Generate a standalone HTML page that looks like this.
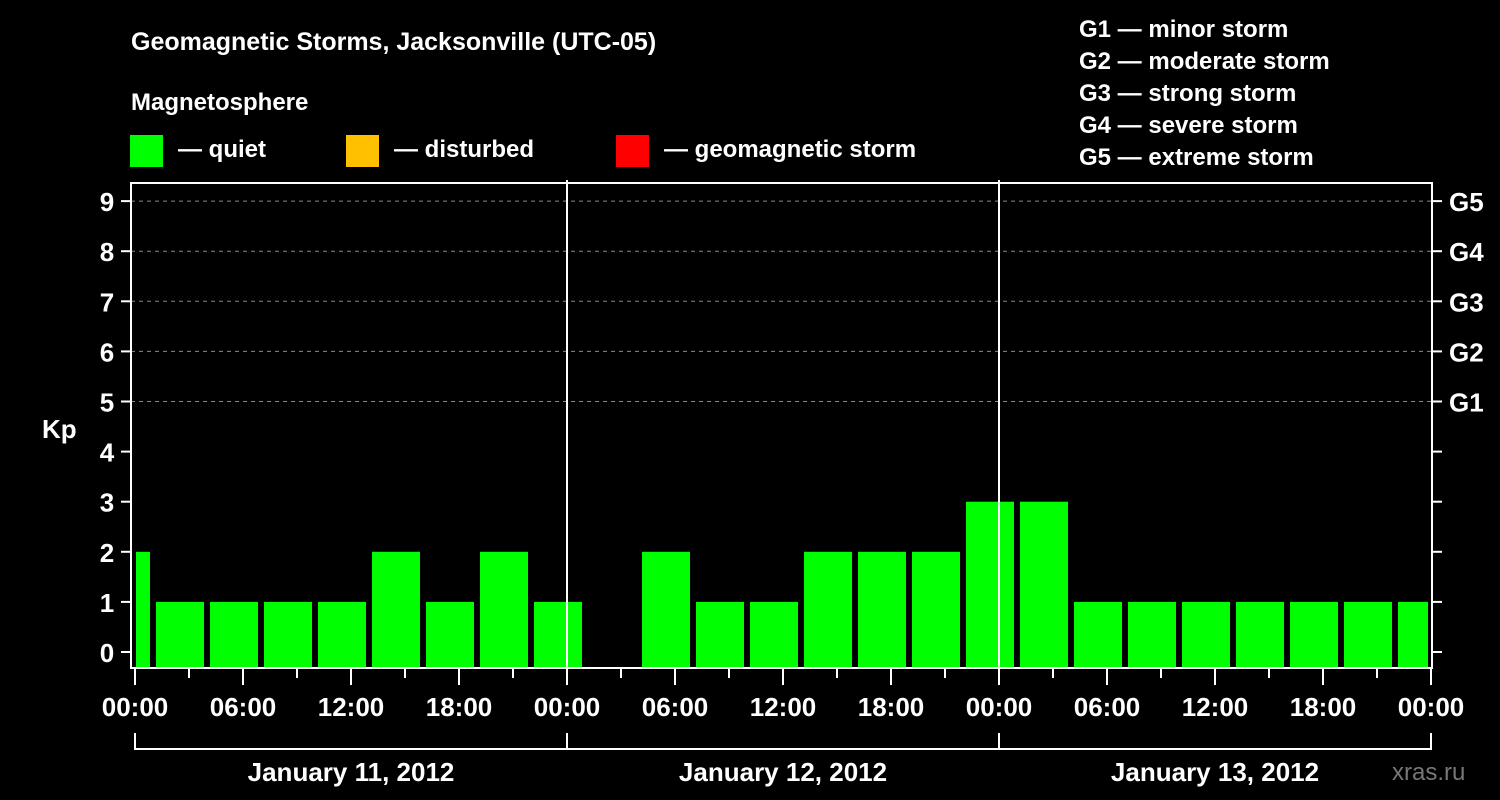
<!DOCTYPE html>
<html><head><meta charset="utf-8"><style>
body{margin:0;background:#000;}
svg{display:block;font-family:"Liberation Sans",Arial,sans-serif;font-weight:bold;}
</style></head><body>
<svg id="chart" width="1500" height="800" viewBox="0 0 1500 800" xmlns="http://www.w3.org/2000/svg">
<rect width="1500" height="800" fill="#000"/>
<text x="131" y="50" fill="#fff" font-size="25">Geomagnetic Storms, Jacksonville (UTC-05)</text>
<text x="131" y="110" fill="#fff" font-size="24">Magnetosphere</text>
<g><rect x="130" y="135" width="33" height="32" fill="#00ff00"/><text x="178" y="157" fill="#fff" font-size="24">— quiet</text></g>
<g><rect x="346" y="135" width="33" height="32" fill="#ffc000"/><text x="394" y="157" fill="#fff" font-size="24">— disturbed</text></g>
<g><rect x="616" y="135" width="33" height="32" fill="#ff0000"/><text x="664" y="157" fill="#fff" font-size="24">— geomagnetic storm</text></g>
<g fill="#fff" font-size="24">
<text x="1079" y="37">G1 — minor storm</text>
<text x="1079" y="69">G2 — moderate storm</text>
<text x="1079" y="101">G3 — strong storm</text>
<text x="1079" y="133">G4 — severe storm</text>
<text x="1079" y="165">G5 — extreme storm</text>
</g>
<text x="42" y="438" fill="#fff" font-size="26">Kp</text>
<text x="1392" y="780" fill="#777" font-size="24" font-weight="normal">xras.ru</text>
<g id="grid"></g><g id="bars"></g><g id="axes"></g>
</svg>
<script>
const kpValues=[2,1,1,1,1,2,1,2,1,null,2,1,1,2,2,2,3,3,1,1,1,1,1,1,1];
const slotStartHours=[-2,1,4,7,10,13,16,19,22,25,28,31,34,37,40,43,46,49,52,55,58,61,64,67,70];
const yTicks=[0,1,2,3,4,5,6,7,8,9];
const gLabels=["G1","G2","G3","G4","G5"];
const gLevels=[5,6,7,8,9];
const xTickLabels=["00:00","06:00","12:00","18:00","00:00","06:00","12:00","18:00","00:00","06:00","12:00","18:00","00:00"];
const dayLabels=["January 11, 2012","January 12, 2012","January 13, 2012"];
const NS="http://www.w3.org/2000/svg";
const L=131,R=1432,T=183,B=668,X0=135,PXH=18;
const y=v=>652-v*50.1;
const x=h=>X0+h*PXH;
function mk(tag,attrs,parent,txt){const e=document.createElementNS(NS,tag);for(const k in attrs)e.setAttribute(k,attrs[k]);if(txt!==undefined)e.textContent=txt;document.getElementById(parent).appendChild(e);return e;}
gLevels.forEach((lv,i)=>{
 const g=mk('line',{x1:L,x2:R,y1:y(lv),y2:y(lv),stroke:'#888','stroke-dasharray':'4,4','stroke-width':1},'grid');
 
 
 const t=mk('text',{x:1449,y:y(lv)+10,fill:'#fff','font-size':26},'axes',gLabels[i]);
 
 
});
kpValues.forEach((v,i)=>{
 if(v===null)return;
 let x1=x(slotStartHours[i])+3,x2=x(slotStartHours[i]+3)-3;
 x1=Math.max(x1,L+5);x2=Math.min(x2,R-4);
 const r=mk('rect',{x:x1,y:y(v),width:x2-x1,height:B-y(v),fill:v>=5?'#ff0000':(v>=4?'#ffc000':'#00ff00')},'bars');
 
 
});
mk('rect',{x:L,y:T,width:R-L,height:B-T,fill:'none',stroke:'#fff','stroke-width':2},'axes');
[0,1,2].forEach(d=>{if(d>0)mk('line',{x1:x(d*24),x2:x(d*24),y1:T-3,y2:B,stroke:'#fff','stroke-width':2},'axes');});
yTicks.forEach(v=>{
 mk('line',{x1:L-10,x2:L,y1:y(v),y2:y(v),stroke:'#fff','stroke-width':2},'axes');
 mk('line',{x1:R,x2:R+10,y1:y(v),y2:y(v),stroke:'#fff','stroke-width':2},'axes');
 const t=mk('text',{x:107,y:y(v)+10,fill:'#fff','font-size':26,'text-anchor':'middle'},'axes',String(v));
 
 
});
for(let h=0;h<=72;h+=3){mk('line',{x1:x(h),x2:x(h),y1:B,y2:h%6===0?685:678,stroke:'#fff','stroke-width':2},'axes');}
xTickLabels.forEach((s,i)=>{
 const t=mk('text',{x:x(i*6),y:716,fill:'#fff','font-size':26,'text-anchor':'middle'},'axes',s);
 
 
});
mk('line',{x1:x(0),x2:x(72),y1:749,y2:749,stroke:'#fff','stroke-width':2},'axes');
for(let d=0;d<=3;d++)mk('line',{x1:x(d*24),x2:x(d*24),y1:733,y2:750,stroke:'#fff','stroke-width':2},'axes');
dayLabels.forEach((s,i)=>{
 const t=mk('text',{x:x(i*24+12),y:781,fill:'#fff','font-size':26,'text-anchor':'middle'},'axes',s);
 
 
});
</script>
</body></html>
